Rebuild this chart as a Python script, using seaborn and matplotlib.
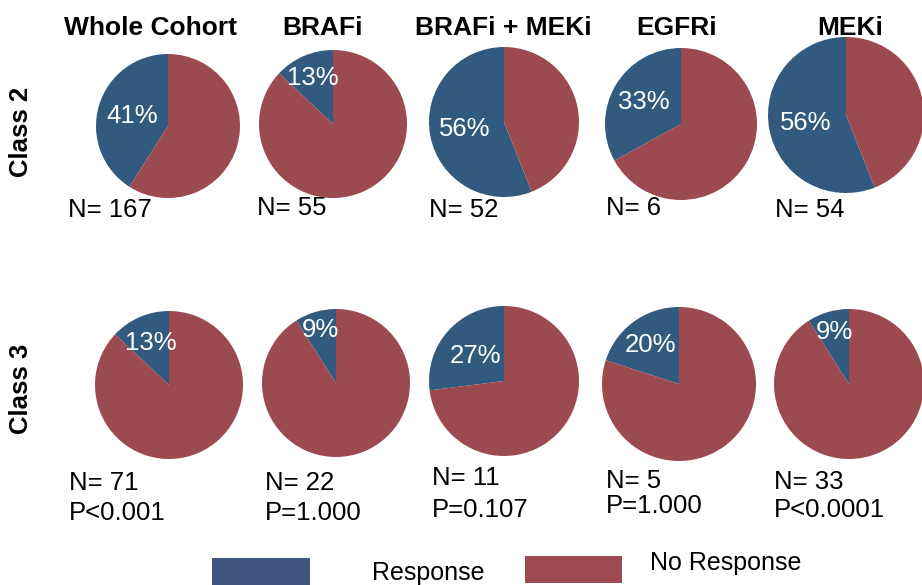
import seaborn as sns
import matplotlib.pyplot as plt
from matplotlib.patches import Rectangle

# ----------------------------- data -----------------------------
groups = ["Whole Cohort", "BRAFi", "BRAFi + MEKi", "EGFRi", "MEKi"]
class2_response = [41, 13, 56, 33, 56]
class2_n = [167, 55, 52, 6, 54]
class3_response = [13, 9, 27, 20, 9]
class3_n = [71, 22, 11, 5, 33]
class3_p = ["P<0.001", "P=1.000", "P=0.107", "P=1.000", "P<0.0001"]
legend_labels = ["Response", "No Response"]

# ----------------------------- style -----------------------------
sns.set_theme(style="white")
plt.rcParams["font.family"] = ["Liberation Sans", "DejaVu Sans"]
plt.rcParams["text.color"] = "black"
pie_colors = sns.color_palette(["#325A7E", "#9B4A50"])
legend_colors = sns.color_palette(["#3F5580", "#9E4A51"])

W, H = 922, 585
fig = plt.figure(figsize=(W / 100, H / 100), dpi=100)
ax = fig.add_axes([0, 0, 1, 1])

# layout in pixels (top-left origin): pie centre x, y, radius
row2_layout = [(168, 126, 72), (333, 124, 74), (504, 122, 75), (681, 124, 76), (846, 115, 78)]
row3_layout = [(169, 385, 74), (336, 383, 74), (504, 381, 75), (679, 384, 77), (849, 384, 75)]
row2_pct = [0.52, 0.68, 0.53, 0.57, 0.52]
row3_pct = [0.62, 0.74, 0.51, 0.62, 0.72]
title_x = [150, 322, 503, 677, 850]
row2_n_pos = [(68, 217), (257, 215), (429, 217), (606, 215), (775, 217)]
row3_n_pos = [(69, 490), (265, 490), (432, 485), (606, 488), (774, 489)]
row3_p_pos = [(69, 520), (265, 520), (432, 517), (606, 513), (774, 517)]

FS = 18.5


def draw_row(values, layout, pcts):
    for v, (cx, cy, r), pd_ in zip(values, layout, pcts):
        _, _, autotexts = ax.pie(
            [v, 100 - v], colors=pie_colors, startangle=90, counterclock=True,
            center=(cx, H - cy), radius=r, frame=True, pctdistance=pd_,
            autopct=lambda p: f"{p:.0f}%", wedgeprops=dict(linewidth=0),
        )
        for t in autotexts:
            t.set_color("white")
            t.set_fontsize(FS)
        autotexts[1].set_visible(False)


draw_row(class2_response, row2_layout, row2_pct)
draw_row(class3_response, row3_layout, row3_pct)

for g, x in zip(groups, title_x):
    ax.text(x, H - 35, g, ha="center", va="baseline", fontsize=19, fontweight="bold")

ax.text(21, H - 132, "Class 2", rotation=90, ha="center", va="center",
        fontsize=18.5, fontweight="bold")
ax.text(21, H - 389, "Class 3", rotation=90, ha="center", va="center",
        fontsize=18.5, fontweight="bold")

for n, (x, y) in zip(class2_n, row2_n_pos):
    ax.text(x, H - y, f"N= {n}", ha="left", va="baseline", fontsize=FS)
for n, (x, y) in zip(class3_n, row3_n_pos):
    ax.text(x, H - y, f"N= {n}", ha="left", va="baseline", fontsize=FS)
for p, (x, y) in zip(class3_p, row3_p_pos):
    ax.text(x, H - y, p, ha="left", va="baseline", fontsize=FS)

# legend swatches
ax.add_patch(Rectangle((212, H - 585), 98, 27, color=legend_colors[0], lw=0))
ax.add_patch(Rectangle((525, H - 583), 97, 27, color=legend_colors[1], lw=0))
ax.text(372, H - 580, legend_labels[0], ha="left", va="baseline", fontsize=18)
ax.text(650, H - 570, legend_labels[1], ha="left", va="baseline", fontsize=18)

ax.set_xlim(0, W)
ax.set_ylim(0, H)
ax.set_aspect("auto")
ax.axis("off")

fig.savefig("out.png", dpi=100)
